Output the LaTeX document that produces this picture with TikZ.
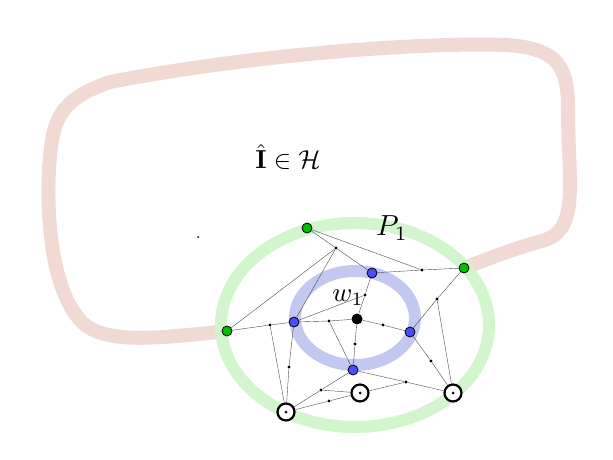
\documentclass[tikz,border=0pt]{standalone}
\begin{document}
\begin{tikzpicture}[x=1pt,y=-1pt,
 gn/.style={circle,draw=black,fill=green!75!black,inner sep=0,minimum size=10pt,line width=0.8pt},
 bn/.style={circle,draw=black,fill=blue!70,inner sep=0,minimum size=10pt,line width=0.8pt},
 sd/.style={circle,fill=black,inner sep=0,minimum size=3.2pt},
 on/.style={circle,draw=black,fill=white,inner sep=0,minimum size=17pt,line width=2.2pt},
 ed/.style={draw=black!70,line width=0.4pt},
 lbl/.style={inner sep=0}]
\useasboundingbox (0,0) rectangle (613,460);
\draw[line width=14pt,color={rgb,255:red,242;green,218;blue,212},line join=round]
 (227,331) .. controls (160,338) and (105,345) .. (82,322)
 .. controls (55,295) and (46,230) .. (49,170)
 .. controls (52,120) and (58,100) .. (110,82)
 .. controls (250,55) and (420,42) .. (505,45)
 .. controls (560,48) and (568,68) .. (568,110)
 .. controls (568,180) and (580,228) .. (545,240)
 .. controls (510,250) and (490,258) .. (464,268);
\draw[line width=12pt,color={rgb,255:red,210;green,245;blue,205}] (355,325) ellipse [x radius=134, y radius=102];
\draw[line width=12pt,color={rgb,255:red,195;green,200;blue,240}] (355,318) ellipse [x radius=60, y radius=47];
\node[lbl] (t) at (288,157) {\scalebox{2.6}{$\hat{\mathbf{I}}\in\mathcal{H}$}};
\node[lbl] (p) at (392,228) {\scalebox{2.9}{$P_1$}};
\node[lbl] (w) at (348,298) {\scalebox{2.7}{$w_1$}};
\node[sd,minimum size=2pt] (x) at (198,237) {};
\node[gn] (G1) at (307,228) {};
\node[gn] (G2) at (464,268) {};
\node[gn] (G3) at (227,331) {};
\node[bn] (B1) at (372,273) {};
\node[bn] (B2) at (294,322) {};
\node[bn] (B3) at (410,332) {};
\node[bn] (B4) at (353,370) {};
\node[circle,fill=black,inner sep=0,minimum size=11pt] (W) at (357,319) {};
\node[on] (O1) at (286,412) {};
\node[on] (O2) at (360,393) {};
\node[on] (O3) at (453,393) {};
\foreach \o in {O1,O2,O3}{\node[sd,minimum size=3pt] at (\o) {};}
\node[sd] (d1) at (336,248) {};
\node[sd] (d2) at (422,270) {};
\node[sd] (d3) at (365,295) {};
\node[sd] (d4) at (329,321) {};
\node[sd] (d5) at (383,325) {};
\node[sd] (d6) at (270,325) {};
\node[sd] (d7) at (437,299) {};
\node[sd] (d8) at (355,344) {};
\node[sd] (d9) at (289,367) {};
\node[sd] (d10) at (431,361) {};
\node[sd] (d11) at (406,382) {};
\node[sd] (d12) at (321,390) {};
\node[sd] (d13) at (329,401) {};
\foreach \a/\b in {G1/d1,G1/d2,B1/d2,d2/G2,d1/B1,d1/G3,d1/B2,B1/d3,d3/W,B2/d3,G3/d6,d6/B2,B2/d4,d4/W,W/d5,d5/B3,W/d8,d8/B4,d4/B4,G2/d7,d7/B3,d7/O3,B3/d10,d10/O3,B4/d11,d11/O3,O2/d11,B4/d12,d12/O1,d12/O2,O1/d13,d13/O2,d6/O1,B2/d9,d9/O1}
 \draw[ed] (\a) -- (\b);
\end{tikzpicture}
\end{document}
